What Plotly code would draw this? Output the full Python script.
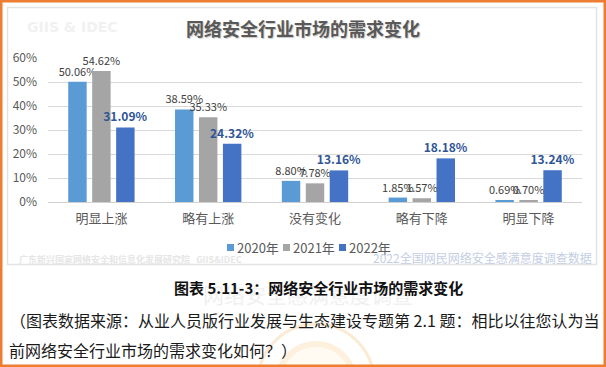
import plotly.graph_objects as go

categories = ["明显上涨", "略有上涨", "没有变化", "略有下降", "明显下降"]
series_names = ["2020年", "2021年", "2022年"]
values_2020 = [50.06, 38.59, 8.80, 1.85, 0.69]
values_2021 = [54.62, 35.33, 7.78, 1.57, 0.70]
values_2022 = [31.09, 24.32, 13.16, 18.18, 13.24]
y_tick_vals = [0, 10, 20, 30, 40, 50, 60]
y_tick_text = ["0%", "10%", "20%", "30%", "40%", "50%", "60%"]

colors = ["#5B9BD5", "#A5A5A5", "#4472C4"]
label_colors = ["#404040", "#404040", "#2F5597"]
FONT = "Noto Sans CJK SC"

W, H = 606, 367
ML, MR, MT, MB = 48, 24, 58, 165
PW, PH = W - ML - MR, H - MT - MB


def px(x):
    return (x - ML) / PW


def py(y):
    return (H - MB - y) / PH


fig = go.Figure()
for name, vals, col, lc in zip(series_names, [values_2020, values_2021, values_2022], colors, label_colors):
    bold = name == "2022年"
    fig.add_trace(go.Bar(
        x=categories, y=vals, name=name, marker=dict(color=col, line=dict(width=0)),
        texttemplate="<b>%{y:.2f}%</b>" if bold else "%{y:.2f}%",
        textposition="outside", cliponaxis=False, constraintext="none",
        textfont=dict(family=FONT, size=12 if bold else 11, color=lc),
        showlegend=False, hoverinfo="skip",
    ))

shapes = []
annotations = []

# outer orange border
shapes.append(dict(type="rect", xref="paper", yref="paper", x0=px(1.25), x1=px(604.75),
                   y0=py(1.25), y1=py(365.75), line=dict(color="#ED7D31", width=2.5), layer="above"))
# chart box
shapes.append(dict(type="rect", xref="paper", yref="paper", x0=px(7.5), x1=px(596.5),
                   y0=py(7.5), y1=py(264.5), line=dict(color="#E3E3E3", width=1.5), layer="below"))
# faint seal
shapes.append(dict(type="circle", xref="paper", yref="paper", x0=px(258), x1=px(374),
                   y0=py(324), y1=py(440), line=dict(color="#FBEBD2", width=3),
                   fillcolor="rgba(0,0,0,0)", layer="below"))
shapes.append(dict(type="circle", xref="paper", yref="paper", x0=px(278), x1=px(354),
                   y0=py(344), y1=py(420), line=dict(color="#FDF0DC", width=6),
                   fillcolor="#FFFBF3", layer="below"))

# legend (manual)
leg_x0 = 227
for i, (name, col) in enumerate(zip(series_names, colors)):
    x0 = leg_x0 + 56 * i
    shapes.append(dict(type="rect", xref="paper", yref="paper", x0=px(x0), x1=px(x0 + 7),
                       y0=py(244), y1=py(251), fillcolor=col, line=dict(width=0)))
    annotations.append(dict(x=px(x0 + 8), y=py(247.5), xref="paper", yref="paper", text=name,
                            showarrow=False, xanchor="left", yanchor="middle",
                            font=dict(family=FONT, size=13, color="#595959")))

# watermarks
annotations.append(dict(x=px(25), y=py(27), xref="paper", yref="paper", text="<b>GIIS &amp; IDEC</b>",
                        showarrow=False, xanchor="left", yanchor="middle",
                        font=dict(family="DejaVu Sans", size=14, color="#F1F1F1")))
annotations.append(dict(x=px(17), y=py(259), xref="paper", yref="paper",
                        text="<b>广东新兴国家网络安全和信息化发展研究院   GIIS&amp;IDEC</b>",
                        showarrow=False, xanchor="left", yanchor="middle",
                        font=dict(family=FONT, size=9, color="#E6E6E6")))
annotations.append(dict(x=px(594), y=py(257), xref="paper", yref="paper",
                        text="2022全国网民网络安全感满意度调查数据",
                        showarrow=False, xanchor="right", yanchor="middle",
                        font=dict(family=FONT, size=12, color="#C4CEE4")))
annotations.append(dict(x=px(308), y=py(294), xref="paper", yref="paper",
                        text="网络安全感满意度调查",
                        showarrow=False, xanchor="center", yanchor="middle",
                        font=dict(family=FONT, size=21, color="#F0F0F0")))

# title
annotations.append(dict(x=px(303), y=py(28), xref="paper", yref="paper",
                        text="<b>网络安全行业市场的需求变化</b>",
                        showarrow=False, xanchor="center", yanchor="middle",
                        font=dict(family=FONT, size=18, color="#595959", shadow="1px 1px 1px #C8C8C8")))

# caption
annotations.append(dict(x=px(318), y=py(287), xref="paper", yref="paper",
                        text="<b>图表 5.11-3：网络安全行业市场的需求变化</b>",
                        showarrow=False, xanchor="center", yanchor="middle",
                        font=dict(family=FONT, size=15, color="#111111")))
annotations.append(dict(x=px(8), y=py(320), xref="paper", yref="paper",
                        text="（图表数据来源：从业人员版行业发展与生态建设专题第 2.1 题：相比以往您认为当",
                        showarrow=False, xanchor="left", yanchor="middle",
                        font=dict(family=FONT, size=16, color="#1A1A1A")))
annotations.append(dict(x=px(7), y=py(350), xref="paper", yref="paper",
                        text="前网络安全行业市场的需求变化如何？）",
                        showarrow=False, xanchor="left", yanchor="middle",
                        font=dict(family=FONT, size=16, color="#1A1A1A")))

fig.update_layout(
    width=W, height=H,
    margin=dict(l=ML, r=MR, t=MT, b=MB, pad=0),
    paper_bgcolor="white", plot_bgcolor="white",
    barmode="group", bargap=0.327, bargroupgap=0.23,
    font=dict(family=FONT, color="#595959"),
    shapes=shapes, annotations=annotations,
    showlegend=False,
)
fig.update_xaxes(showgrid=False, showline=False, zeroline=False, ticks="",
                 tickfont=dict(family=FONT, size=13, color="#595959"), ticklabelstandoff=7)
fig.update_yaxes(range=[0, 60], tickvals=y_tick_vals, ticktext=y_tick_text,
                 showgrid=True, gridcolor="#D9D9D9", gridwidth=1,
                 zeroline=True, zerolinecolor="#D0D0D0", zerolinewidth=1,
                 showline=False, ticks="", ticklabelstandoff=10,
                 tickfont=dict(family=FONT, size=12, color="#595959"))

fig.write_html("out.html", config={"displayModeBar": False},
               post_script="document.body.style.margin='0';document.body.style.overflow='hidden';")
